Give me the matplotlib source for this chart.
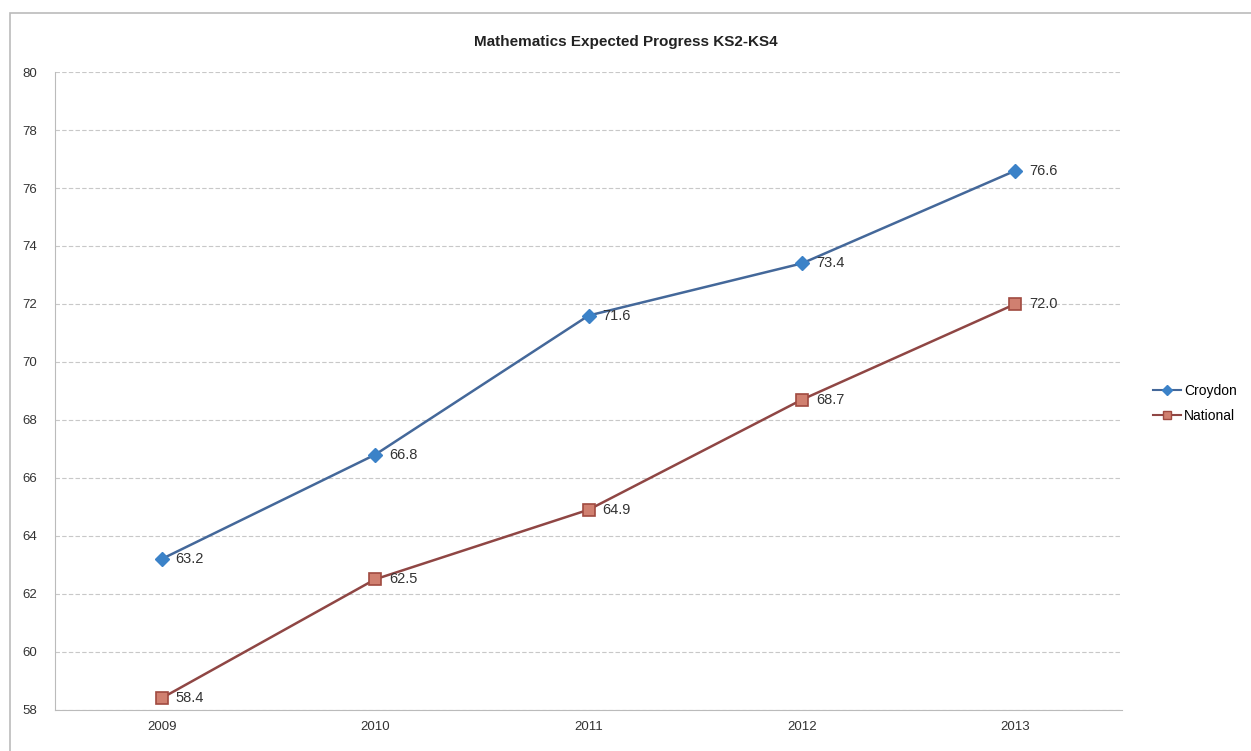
import matplotlib.pyplot as plt
from matplotlib.lines import Line2D
from matplotlib.patches import Rectangle

years = ["2009", "2010", "2011", "2012", "2013"]
croydon = [63.2, 66.8, 71.6, 73.4, 76.6]
national = [58.4, 62.5, 64.9, 68.7, 72.0]
y_ticks = [58, 60, 62, 64, 66, 68, 70, 72, 74, 76, 78, 80]

plt.rcParams["font.family"] = ["Liberation Sans", "DejaVu Sans"]

fig = plt.figure(figsize=(12.51, 7.51), dpi=100)
ax = fig.add_axes([0.044, 0.055, 0.853, 0.849])

x = list(range(len(years)))
blue_line, blue_mk = "#44689a", "#3b82c8"
red_line, red_mk = "#8f4644", "#d08070"

ax.plot(x, croydon, color=blue_line, lw=1.8, marker="D", ms=7,
        mfc=blue_mk, mec=blue_mk, label="Croydon", zorder=3)
ax.plot(x, national, color=red_line, lw=1.8, marker="s", ms=8,
        mfc=red_mk, mec="#a04a40", mew=1.2, label="National", zorder=3)

for xi, v in zip(x, croydon):
    ax.annotate(f"{v:.1f}", (xi, v), xytext=(10, 0), textcoords="offset points",
                va="center", ha="left", fontsize=10.5, color="#333333")
for xi, v in zip(x, national):
    ax.annotate(f"{v:.1f}", (xi, v), xytext=(10, 0), textcoords="offset points",
                va="center", ha="left", fontsize=10.5, color="#333333")

ax.set_xlim(-0.5, len(years) - 0.5)
ax.set_ylim(58, 80)
ax.set_xticks(x)
ax.set_xticklabels(years)
ax.set_yticks(y_ticks)
ax.tick_params(axis="both", labelsize=9.5, colors="#333333", length=0, pad=8)
ax.tick_params(axis="y", pad=13)
ax.grid(axis="y", color="#c8c8c8", lw=0.8, ls=(0, (4, 2)))
ax.set_axisbelow(True)
for side in ["top", "right"]:
    ax.spines[side].set_visible(False)
ax.spines["left"].set_color("#bbbbbb")
ax.spines["bottom"].set_color("#bbbbbb")

fig.text(0.5, 0.944, "Mathematics Expected Progress KS2-KS4", ha="center",
         va="center", fontsize=11, fontweight="bold", color="#222222")

handles = [
    Line2D([], [], color=blue_line, marker="D", ms=5, mfc=blue_mk, mec=blue_mk, lw=1.5),
    Line2D([], [], color=red_line, marker="s", ms=6, mfc=red_mk, mec="#a04a40", lw=1.5),
]
fig.legend(handles, ["Croydon", "National"], loc="center left",
           bbox_to_anchor=(0.912, 0.463), frameon=False, fontsize=10,
           handlelength=2.0, handletextpad=0.2, labelspacing=0.8)

# outer chart frame, open on the right and bottom
fig.patches.append(Rectangle((0.008, -0.01), 1.0, 0.993, transform=fig.transFigure,
                             fill=False, edgecolor="#bbbbbb", lw=1.2))

fig.savefig("out.png", dpi=100)
